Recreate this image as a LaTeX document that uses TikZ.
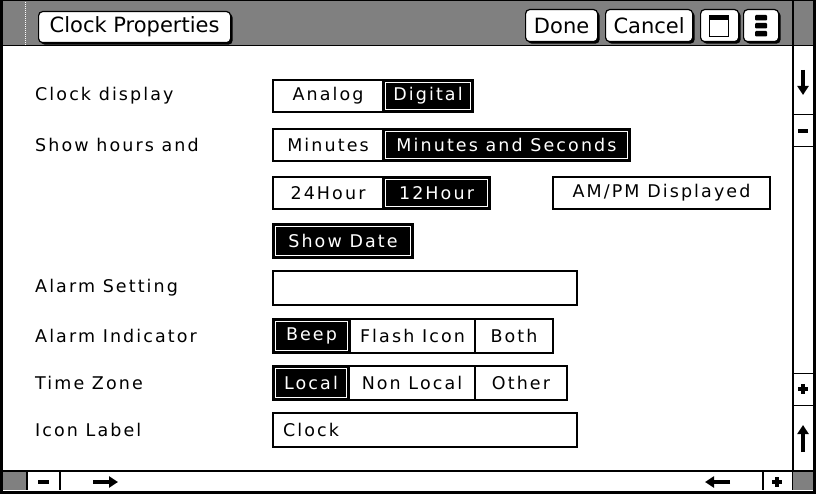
\documentclass[tikz,border=0pt]{standalone}
\usepackage{fontspec}
\setmainfont{DejaVu Sans}
\newfontfamily\uifont{DejaVu Sans}[LetterSpace=12]
\usetikzlibrary{shadows,arrows.meta}
\definecolor{dith}{gray}{0.5}
\begin{document}
\begin{tikzpicture}[x=1pt,y=-1pt,
  ui/.style={font=\uifont\fontsize{17.5}{19}\selectfont},
  lbl/.style={ui, anchor=west, inner sep=0pt},
  opt/.style={draw=black, line width=1.4pt, fill=white, inner sep=0pt, outer sep=0pt, ui, anchor=north west},
  sel/.style={opt, fill=black, text=white,
    path picture={\draw[white,line width=0.8pt]
      ([shift={(2.6pt,2.6pt)}]path picture bounding box.south west) rectangle
      ([shift={(-2.6pt,-2.6pt)}]path picture bounding box.north east);}},
  tbtn/.style={draw=black, line width=1.2pt, fill=white, rounded corners=4pt,
    inner sep=0pt, anchor=north west,
    font=\fontsize{21}{24}\selectfont,
    drop shadow={shadow xshift=2pt, shadow yshift=-2pt, opacity=1, fill=black}},
  glyph/.style={line width=3.5pt},
  arr/.style={line width=3.5pt, -{Triangle[width=11pt,length=9pt]}}
]
\useasboundingbox (0,0) rectangle (816,494);
% background
\fill[white] (0,0) rectangle (816,494);
% title bar
\fill[dith] (0,0) rectangle (816,46);
\draw[line width=1pt] (0,46) -- (816,46);
\draw[white, line width=1pt, dash pattern=on 1pt off 1pt] (25,0) -- (25,46);
% title buttons
\node[tbtn, minimum width=192pt, minimum height=31pt] (title) at (38,11) {Clock Properties};
\node[tbtn, minimum width=72pt, minimum height=32pt] (done) at (525,9) {Done};
\node[tbtn, minimum width=87pt, minimum height=32pt] (cancel) at (605,9) {Cancel};
\node[tbtn, minimum width=38pt, minimum height=32pt] (win) at (700,9) {};
\node[tbtn, minimum width=35pt, minimum height=32pt] (menu) at (743,9) {};
\draw[line width=1.5pt] (709.5,17) rectangle (728.5,36.5);
\fill (709,15) rectangle (729,20);
\fill[rounded corners=1pt] (755,15) rectangle (767,20.5);
\fill[rounded corners=1pt] (755,23) rectangle (767,28.5);
\fill[rounded corners=1pt] (755,31) rectangle (767,36.5);
% right scrollbar
\draw[line width=1.2pt] (793,0) -- (793,490);
\draw[line width=1pt] (793,115) -- (813,115);
\draw[line width=1pt] (793,147) -- (813,147);
\draw[line width=1pt] (793,373) -- (813,373);
\draw[line width=1pt] (793,405) -- (813,405);
% bottom scrollbar
\fill[dith] (3,471) rectangle (27,490);
\fill[dith] (793,471) rectangle (813,490);
\draw[line width=1.2pt] (0,471) -- (816,471);
\draw[line width=1.2pt] (27,471) -- (27,490);
\draw[line width=1.2pt] (60,471) -- (60,490);
\draw[line width=1.2pt] (763,471) -- (763,490);
% glyphs
\draw[arr] (803,70) -- (803,95);
\draw[glyph] (798,131) -- (808,131);
\draw[glyph] (798,389) -- (808,389);
\draw[glyph] (803,384) -- (803,394);
\draw[arr] (803,452) -- (803,425);
\draw[glyph] (38,482) -- (49,482);
\draw[arr] (93,482) -- (118,482);
\draw[arr] (730,482) -- (705,482);
\draw[glyph] (772,482) -- (782,482);
\draw[glyph] (777,477) -- (777,487);
% outer border
\draw[line width=3pt] (1.5,0) -- (1.5,492) -- (814.5,492) -- (814.5,0);
\draw[line width=1pt] (0,0.5) -- (816,0.5);
% labels
\node[lbl] (l1) at (35,96) {Clock display};
\node[lbl] (l2) at (35,145) {Show hours and};
\node[lbl] (l3) at (35,288) {Alarm Setting};
\node[lbl] (l4) at (35,336) {Alarm Indicator};
\node[lbl] (l5) at (35,383) {Time Zone};
\node[lbl] (l6) at (35,430) {Icon Label};
% options
\node[opt, minimum width=110pt, minimum height=32pt] (analog) at (273,80) {Analog};
\node[sel, minimum width=90pt, minimum height=32pt] (digital) at (383,80) {Digital};
\node[opt, minimum width=110pt, minimum height=32pt] (minutes) at (273,129) {Minutes};
\node[sel, minimum width=247pt, minimum height=32pt] (minsec) at (383,129) {Minutes and Seconds};
\node[opt, minimum width=110pt, minimum height=32pt] (h24) at (273,177) {24Hour};
\node[sel, minimum width=107pt, minimum height=32pt] (h12) at (383,177) {12Hour};
\node[opt, minimum width=217pt, minimum height=32pt] (ampm) at (553,177) {AM/PM Displayed};
\node[sel, minimum width=140pt, minimum height=34pt] (date) at (273,224) {Show Date};
\node[opt, minimum width=304pt, minimum height=34pt] (alarm) at (273,271) {};
\node[sel, minimum width=77pt, minimum height=34pt] (beep) at (273,319) {Beep};
\node[opt, minimum width=125pt, minimum height=34pt] (flash) at (350,319) {Flash Icon};
\node[opt, minimum width=78pt, minimum height=34pt] (both) at (475,319) {Both};
\node[sel, minimum width=76pt, minimum height=34pt] (local) at (273,366) {Local};
\node[opt, minimum width=126pt, minimum height=34pt] (nonlocal) at (349,366) {Non Local};
\node[opt, minimum width=92pt, minimum height=34pt] (other) at (475,366) {Other};
\node[opt, text width=284pt, align=left, inner xsep=10pt, minimum height=34pt] (icon) at (273,413) {Clock};
\end{tikzpicture}
\end{document}
